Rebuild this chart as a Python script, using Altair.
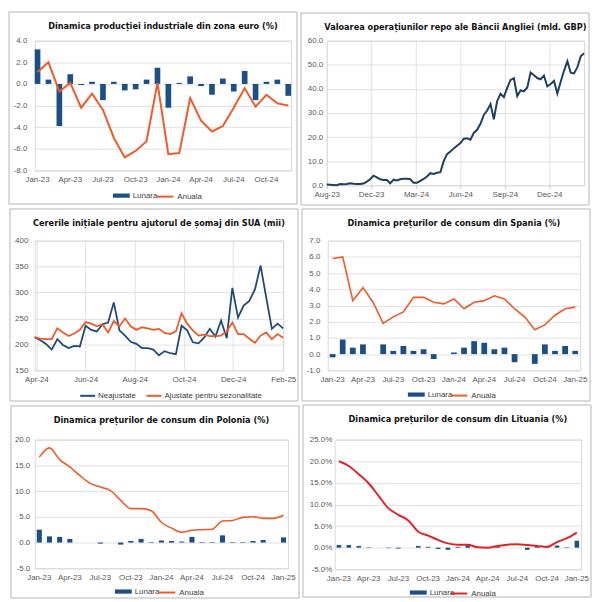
import altair as alt
import pandas as pd

# ---------------- categories ----------------
MON = ["Jan", "Feb", "Mar", "Apr", "May", "Jun", "Jul", "Aug", "Sep", "Oct", "Nov", "Dec"]
months_24 = [f"{m}-{y}" for y in ("23", "24") for m in MON]          # Jan-23 .. Dec-24
months_25 = months_24 + ["Jan-25"]                                      # Jan-23 .. Jan-25
ticks_24 = [f"{m}-{y}" for y in ("23", "24") for m in ("Jan", "Apr", "Jul", "Oct")]
ticks_25 = ticks_24 + ["Jan-25"]

# ---------------- panel 1: euro area industrial production ----------------
ez_lunara = [3.2, 0.4, -3.9, 0.9, -0.1, 0.2, -1.5, 0.2, -0.6, -0.5, 0.4, 1.5,
             -2.2, 0.1, 0.7, -0.2, -1.0, 0.5, -0.7, 1.2, -1.5, 0.2, 0.4, -1.1]
ez_anuala = [1.1, 2.0, -0.7, 0.1, -2.2, -0.9, -2.4, -5.0, -6.8, -6.2, -5.3, 0.1,
             -6.5, -6.4, -1.3, -3.4, -4.4, -3.9, -2.2, -0.4, -2.1, -1.0, -1.8, -2.0]

# ---------------- panel 2: BoE repo operations (weekly) ----------------
boe_start = "2023-08-31"
boe_values = [0.3, 0.2, 0.1, 0.0, 0.5, 0.4, 0.5, 0.8, 0.6, 0.5,
              0.5, 0.7, 1.5, 2.5, 4.0, 3.3, 2.5, 2.2, 2.2, 0.8,
              2.3, 2.0, 2.5, 2.7, 2.7, 2.5, 1.0, 1.0, 1.8, 2.6,
              3.6, 5.0, 4.7, 5.2, 5.4, 10.0, 12.9, 14.0, 15.3, 16.4,
              17.5, 19.3, 19.5, 18.9, 21.7, 23.0, 25.5, 29.2, 31.0, 33.7,
              27.4, 35.0, 38.0, 36.6, 40.4, 43.7, 44.4, 37.0, 39.4, 39.0,
              40.6, 46.8, 45.7, 44.5, 44.0, 45.5, 41.0, 42.0, 43.3, 38.1,
              43.0, 47.5, 51.5, 46.7, 46.4, 49.0, 53.5, 54.8]
boe_ticks = ["2023-08-31", "2023-12-02", "2024-03-05", "2024-06-06", "2024-09-07", "2024-12-09"]

# ---------------- panel 3: US initial jobless claims (weekly) ----------------
us_start = "2024-03-30"
us_neajustate = [214, 208, 201, 190, 210, 199, 193, 197, 196, 236,
                 228, 225, 239, 242, 281, 227, 217, 205, 201, 193,
                 193, 190, 179, 187, 183, 181, 236, 227, 204, 202,
                 213, 230, 215, 246, 212, 309, 252, 275, 284, 306,
                 352, 290, 230, 240, 231]
us_ajustate = [214, 211, 210, 210, 231, 223, 216, 221, 228, 243,
               240, 235, 239, 223, 245, 235, 250, 235, 228, 233,
               231, 228, 230, 222, 220, 225, 260, 240, 227, 217,
               219, 216, 216, 217, 225, 242, 220, 220, 211, 203,
               217, 223, 210, 220, 213]
us_series = ["Neajustate", "Ajustate pentru sezonalitate"]
us_ticks = ["2024-04-01", "2024-06-01", "2024-08-01", "2024-10-01", "2024-12-01", "2025-02-01"]

# ---------------- panel 4: Spain CPI ----------------
es_lunara = [-0.2, 0.9, 0.4, 0.6, 0.0, 0.6, 0.2, 0.5, 0.2, 0.3, -0.3, 0.0,
             0.1, 0.4, 0.8, 0.7, 0.3, 0.4, -0.5, 0.0, -0.6, 0.6, 0.2, 0.5, 0.2]
es_anuala = [5.9, 6.0, 3.3, 4.1, 3.2, 1.9, 2.3, 2.6, 3.5, 3.5, 3.2, 3.1,
             3.4, 2.8, 3.2, 3.3, 3.6, 3.4, 2.8, 2.3, 1.5, 1.8, 2.4, 2.8, 2.9]

# ---------------- panel 5: Poland CPI ----------------
pl_lunara = [2.5, 1.2, 1.1, 0.7, 0.0, 0.0, -0.2, 0.0, -0.4, 0.3, 0.7, 0.1,
             0.4, 0.3, 0.2, 1.1, 0.1, 0.1, 1.4, 0.1, 0.1, 0.3, 0.5, 0.0, 1.0]
pl_anuala = [16.6, 18.4, 16.1, 14.7, 13.0, 11.5, 10.8, 10.1, 8.2, 6.6, 6.6, 6.2,
             3.9, 2.8, 2.0, 2.4, 2.5, 2.6, 4.2, 4.3, 4.9, 5.0, 4.7, 4.7, 5.3]

# ---------------- panel 6: Lithuania CPI ----------------
lt_lunara = [0.6, 0.6, 0.4, 0.1, 0.0, -0.1, -0.2, 0.0, 0.4, 0.2, -0.3, -0.5,
             0.2, 0.6, 0.1, 0.0, 0.3, 0.0, 0.0, -0.5, 0.4, 0.1, 0.5, 0.1, 1.6]
lt_anuala = [20.0, 18.9, 17.0, 14.9, 12.0, 9.1, 7.6, 6.3, 3.7, 2.8, 1.8, 1.0,
             0.7, 0.7, 0.1, 0.0, 0.4, 0.7, 0.8, 0.6, 0.4, 0.2, 1.3, 2.2, 3.5]

# ---------------- styles ----------------
BLUE = "#1b4f86"
ORANGE = "#ee5a2a"
RED = "#e0232b"
NAVY = "#1d3f63"
LINEBLUE = "#1f4a75"
BORDER = "#b4b4b4"
TITLE_FONT = "Liberation Sans Narrow, DejaVu Sans Condensed, sans-serif"
FONT = "Liberation Sans, Arial, sans-serif"
RECT_PATH = "M-1,-0.25H1V0.25H-1Z"

FMT1 = "(datum.value < 0 ? '-' : '') + format(abs(datum.value), '.1f')"
FMTP = "(datum.value < 0 ? '-' : '') + format(abs(datum.value), '.1f') + '%'"
FMT0 = "format(datum.value, 'd')"


def border(w, h, box):
    L, T, R, B = box
    return alt.Chart(pd.DataFrame({"b": [0]})).mark_rect(
        fillOpacity=0, stroke=BORDER, strokeWidth=1, clip=False
    ).encode(x=alt.value(-L), x2=alt.value(w + R), y=alt.value(-T), y2=alt.value(h + B))


def title(text):
    return alt.TitleParams(text=text, font=TITLE_FONT, fontSize=9.2, fontWeight="bold",
                           color="#111111", anchor="middle", offset=-20)


def leg(x, y, size=289, offset=3, **kw):
    return alt.Legend(orient="none", legendX=x, legendY=y, title=None, padding=0,
                      labelFont=FONT, labelFontSize=8, labelColor="#404040",
                      labelOffset=offset, symbolSize=size, **kw)


def bar_line(ttl, cats, ticks, monthly, annual, line_color, ydom, yvals, lab_expr,
             w, h, box, legpos, pi, po, lab_pad, lw=1.8, smooth=False):
    df = pd.DataFrame({"luna": cats, "lunara": monthly, "anuala": annual,
                       "s1": "Lunara", "s2": "Anuala"})
    xenc = alt.X("luna:N", sort=cats, title=None,
                 scale=alt.Scale(paddingInner=pi, paddingOuter=po),
                 axis=alt.Axis(values=ticks, labelAngle=0, labelPadding=5))
    ysc = alt.Scale(domain=ydom, nice=False)
    yax = alt.Axis(values=yvals, labelExpr=lab_expr, grid=True, labelPadding=lab_pad, title=None)
    bars = alt.Chart(df).mark_bar().encode(
        x=xenc,
        y=alt.Y("lunara:Q", scale=ysc, axis=yax),
        color=alt.Color("s1:N", scale=alt.Scale(domain=["Lunara"], range=[BLUE]),
                        legend=leg(legpos[0], legpos[2], symbolType=RECT_PATH,
                                   symbolStrokeWidth=0)),
    )
    lk = {"interpolate": "monotone"} if smooth else {}
    line = alt.Chart(df).mark_line(strokeWidth=lw, **lk).encode(
        x=xenc,
        y=alt.Y("anuala:Q", scale=ysc, axis=yax),
        stroke=alt.Stroke("s2:N", scale=alt.Scale(domain=["Anuala"], range=[line_color]),
                          legend=leg(legpos[1], legpos[2], symbolType="stroke",
                                     symbolStrokeWidth=2)),
    )
    return alt.layer(border(w, h, box), bars, line).properties(
        width=w, height=h, title=title(ttl))


# panel 1
p1 = bar_line("Dinamica producției industriale din zona euro (%)", months_24, ticks_24,
              ez_lunara, ez_anuala, ORANGE, [-8, 4], [-8, -6, -4, -2, 0, 2, 4], FMT1,
              259, 131, (26, 29, 6, 34), (79, 122, 148), 0.48, 0.0, 8, lw=2)

# panel 2
boe_df = pd.DataFrame({"data": pd.date_range(boe_start, periods=len(boe_values), freq="7D"),
                       "v": boe_values})
W2, H2, BOX2 = 260, 146, (26, 28, 5, 20)
p2_line = alt.Chart(boe_df).mark_line(color=NAVY, strokeWidth=2).encode(
    x=alt.X("data:T", title=None, scale=alt.Scale(nice=False),
            axis=alt.Axis(values=[pd.Timestamp(t).isoformat() for t in boe_ticks],
                          format="%b-%y", labelAngle=0, ticks=True, tickSize=3,
                          tickColor="#bfbfbf", labelFlush=False, labelOverlap=False,
                          labelPadding=2)),
    y=alt.Y("v:Q", title=None, scale=alt.Scale(domain=[0, 60], nice=False),
            axis=alt.Axis(values=[0, 10, 20, 30, 40, 50, 60], labelExpr=FMT1, grid=True,
                          labelPadding=4)),
)
p2 = alt.layer(border(W2, H2, BOX2), p2_line).properties(
    width=W2, height=H2,
    title=title("Valoarea operațiunilor repo ale Băncii Angliei (mld. GBP)"))

# panel 3
us_dates = pd.date_range(us_start, periods=len(us_neajustate), freq="7D")
us_df = pd.concat([
    pd.DataFrame({"data": us_dates, "v": us_neajustate, "serie": us_series[0]}),
    pd.DataFrame({"data": us_dates, "v": us_ajustate, "serie": us_series[1]}),
])
W3, H3, BOX3 = 251, 131, (25, 32, 15, 31)
p3_line = alt.Chart(us_df).mark_line(strokeWidth=1.8).encode(
    x=alt.X("data:T", title=None, scale=alt.Scale(nice=False),
            axis=alt.Axis(values=[pd.Timestamp(t).isoformat() for t in us_ticks],
                          format="%b-%y", labelAngle=0, labelFlush=False,
                          labelOverlap=False, labelPadding=5)),
    y=alt.Y("v:Q", title=None, scale=alt.Scale(domain=[150, 400], nice=False, zero=False),
            axis=alt.Axis(values=[150, 200, 250, 300, 350, 400], labelExpr=FMT0, grid=True,
                          labelPadding=7)),
    color=alt.Color("serie:N", sort=us_series,
                    scale=alt.Scale(domain=us_series, range=[LINEBLUE, ORANGE]),
                    legend=leg(45, 148, size=225, offset=2, symbolType="stroke",
                               symbolStrokeWidth=2, direction="horizontal",
                               columnPadding=6)),
    detail="serie:N",
)
p3 = alt.layer(border(W3, H3, BOX3), p3_line).properties(
    width=W3, height=H3,
    title=title("Cererile inițiale pentru ajutorul de șomaj din SUA (mii)"))

# panel 4
p4 = bar_line("Dinamica prețurilor de consum din Spania (%)", months_25, ticks_25,
              es_lunara, es_anuala, ORANGE, [-1, 7], [-1, 0, 1, 2, 3, 4, 5, 6, 7], FMT1,
              255, 131, (26, 32, 10, 31), (81, 123, 147), 0.43, 0.2, 8, lw=1.6)

# panel 5
p5 = bar_line("Dinamica prețurilor de consum din Polonia (%)", months_25, ticks_25,
              pl_lunara, pl_anuala, ORANGE, [-5, 20], [-5, 0, 5, 10, 15, 20], FMT1,
              256, 130, (24, 34, 11, 30), (81, 124, 145), 0.5, 0.2, 5, lw=1.6, smooth=True)

# panel 6
p6 = bar_line("Dinamica prețurilor de consum din Lituania (%)", months_25, ticks_25,
              lt_lunara, lt_anuala, RED, [-5, 25], [-5, 0, 5, 10, 15, 20, 25], FMTP,
              249, 131, (32, 35, 10, 28), (76, 116, 146), 0.54, 0.2, 3, lw=2, smooth=True)


def row(a, b):
    return alt.hconcat(a, b, spacing=2).resolve_scale(color="independent", stroke="independent")


chart = alt.vconcat(row(p1, p2), row(p3, p4), row(p5, p6), spacing=2).resolve_scale(
    color="independent", stroke="independent"
).properties(padding=0).configure(background="white").configure_view(
    stroke="#d9d9d9", strokeWidth=1
).configure_axis(
    labelFont=FONT, labelFontSize=8, labelColor="#595959", gridColor="#d9d9d9",
    gridWidth=0.8, domain=False, ticks=False, title=None
)

chart.save("out.html", embed_options={"renderer": "svg", "actions": False})
